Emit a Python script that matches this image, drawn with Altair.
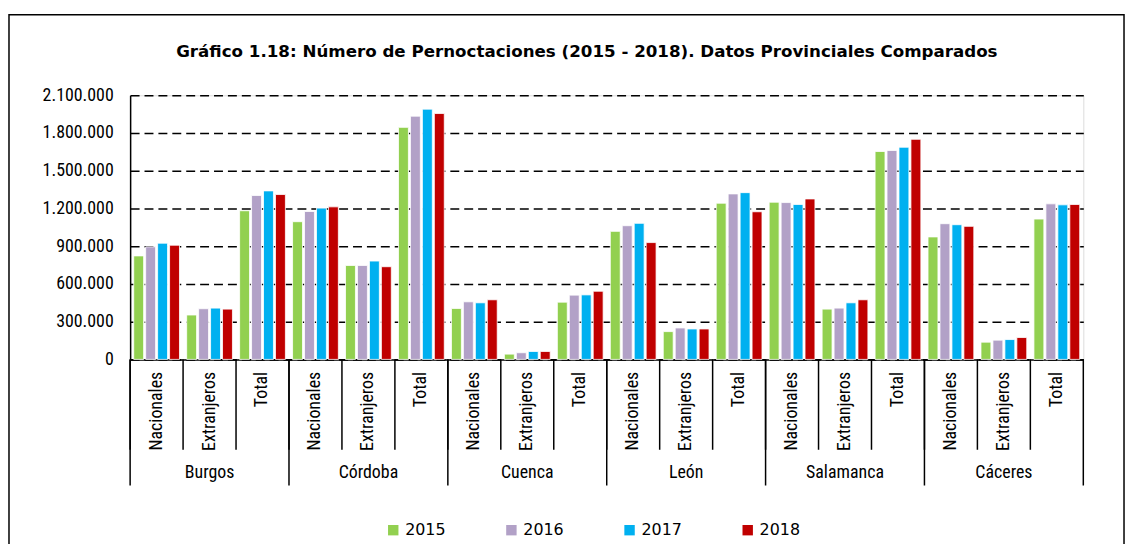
import altair as alt
import pandas as pd

provincias = ["Burgos", "Córdoba", "Cuenca", "León", "Salamanca", "Cáceres"]
categorias = ["Nacionales", "Extranjeros", "Total"]
anios = ["2015", "2016", "2017", "2018"]
titulo = "Gráfico 1.18: Número de Pernoctaciones (2015 - 2018). Datos Provinciales Comparados"

# values per year, ordered province by province (Nacionales, Extranjeros, Total)
v2015 = [823000, 353000, 1182000, 1095000, 747000, 1845000, 405000, 42000, 455000,
         1018000, 221000, 1242000, 1250000, 400000, 1653000, 974000, 137000, 1116000]
v2016 = [895000, 403000, 1303000, 1176000, 747000, 1934000, 458000, 53000, 511000,
         1063000, 250000, 1316000, 1247000, 408000, 1661000, 1079000, 153000, 1237000]
v2017 = [924000, 408000, 1340000, 1203000, 782000, 1990000, 450000, 63000, 513000,
         1082000, 242000, 1326000, 1232000, 450000, 1687000, 1071000, 158000, 1229000]
v2018 = [908000, 400000, 1311000, 1213000, 737000, 1955000, 474000, 63000, 542000,
         929000, 242000, 1174000, 1276000, 474000, 1750000, 1058000, 174000, 1232000]

colores = ["#92D050", "#B2A1C7", "#00B0F0", "#C00000"]

keys = [f"{p}|{c}" for p in provincias for c in categorias]
rows = []
for anio, vals in zip(anios, [v2015, v2016, v2017, v2018]):
    for k, v in zip(keys, vals):
        rows.append({"key": k, "anio": anio, "valor": v})
df = pd.DataFrame(rows)

W, H = 960, 266
NARROW = "Liberation Sans Narrow, Arial Narrow, Roboto Condensed, sans-serif"

xscale = alt.Scale(domain=keys, paddingInner=0, paddingOuter=0)

bars = alt.Chart(df).mark_bar(stroke="white", strokeWidth=0.8).encode(
    x=alt.X("key:N", scale=xscale, sort=keys, title=None,
            axis=alt.Axis(labelExpr="split(datum.label, '|')[1]", labelAngle=-90,
                          ticks=False, labelPadding=12, labelFont=NARROW,
                          labelFontSize=18, labelColor="black", domainColor="black",
                          domainWidth=1.5, grid=False, labelBaseline="middle",
                          labelAlign="right")),
    xOffset=alt.XOffset("anio:N", sort=anios,
                        scale=alt.Scale(paddingInner=0.17, paddingOuter=0.3)),
    y=alt.Y("valor:Q", scale=alt.Scale(domain=[0, 2100000], nice=False), title=None,
            axis=alt.Axis(values=[0, 300000, 600000, 900000, 1200000, 1500000, 1800000, 2100000],
                          labelExpr="replace(replace(format(datum.value, ','), ',', '.'), ',', '.')",
                          ticks=False, labelPadding=17, labelFont=NARROW, labelFontSize=18,
                          labelColor="black", domainColor="black", domainWidth=1.5,
                          grid=True, gridColor="black", gridDash=[9, 5], gridWidth=1.6)),
    color=alt.Color("anio:N", sort=anios, scale=alt.Scale(domain=anios, range=colores),
                    legend=alt.Legend(title=None, orient="none", legendX=257, legendY=430,
                                      direction="horizontal", symbolType="square",
                                      symbolSize=110, symbolStrokeWidth=0,
                                      labelFont="DejaVu Sans", labelFontSize=16,
                                      labelColor="black", columnPadding=58,
                                      labelOffset=4)),
)

cat_df = pd.DataFrame({"key": keys})
cat_sep = alt.Chart(cat_df).mark_rule(color="black", strokeWidth=1.5).encode(
    x=alt.X("key:N", bandPosition=0, scale=xscale, sort=keys),
    y=alt.value(H), y2=alt.value(H + 91))

first_df = pd.DataFrame({"key": [f"{p}|Nacionales" for p in provincias]})
prov_sep = alt.Chart(first_df).mark_rule(color="black", strokeWidth=1.5).encode(
    x=alt.X("key:N", bandPosition=0, scale=xscale, sort=keys),
    y=alt.value(H), y2=alt.value(H + 127))

last_df = pd.DataFrame({"key": [keys[-1]]})
end_sep = alt.Chart(last_df).mark_rule(color="black", strokeWidth=1.5).encode(
    x=alt.X("key:N", bandPosition=1, scale=xscale, sort=keys),
    y=alt.value(H), y2=alt.value(H + 127))

mid_df = pd.DataFrame({"key": [f"{p}|Extranjeros" for p in provincias], "prov": provincias})
prov_lab = alt.Chart(mid_df).mark_text(font=NARROW, fontSize=18, color="black",
                                       baseline="middle", align="center").encode(
    x=alt.X("key:N", scale=xscale, sort=keys),
    y=alt.value(H + 114), text="prov:N")

frame = alt.Chart(pd.DataFrame({"a": [0]})).mark_rect(fill=None, stroke="black",
                                                      strokeWidth=1.5).encode(
    x=alt.value(-122), x2=alt.value(1001), y=alt.value(-81), y2=alt.value(H + 250))

title_mark = alt.Chart(pd.DataFrame({"t": [titulo]})).mark_text(
    font="DejaVu Sans", fontSize=16.8, fontWeight="bold", color="black",
    align="center", baseline="alphabetic").encode(
    x=alt.value(460), y=alt.value(-39), text="t:N")

chart = alt.layer(frame, bars, cat_sep, prov_sep, end_sep, prov_lab, title_mark).properties(
    width=W, height=H,
    autosize=alt.AutoSizeParams(type="none"),
    padding={"left": 123, "top": 86, "right": 43, "bottom": 184},
).configure_view(stroke="black", strokeWidth=1.5).configure(background="white")

chart.save("out.html", embed_options={"renderer": "svg", "actions": False})
